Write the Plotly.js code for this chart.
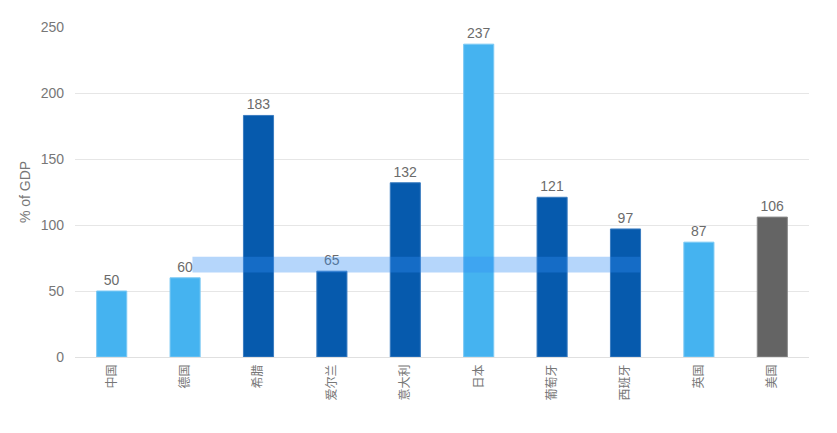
<!DOCTYPE html>
<html>
<head>
<meta charset="utf-8">
<script src="https://cdn.plot.ly/plotly-3.0.1.min.js"></script>
<style>
  html, body { margin: 0; padding: 0; background: #fff; }
  #chart { width: 837px; height: 433px; }
</style>
</head>
<body>
<div id="chart"></div>
<script>
var countries = ["中国", "德国", "希腊", "爱尔兰", "意大利", "日本", "葡萄牙", "西班牙", "英国", "美国"];
var debtPct = [50, 60, 183, 65, 132, 237, 121, 97, 87, 106];
var barColors = ["#45b3f0", "#45b3f0", "#065aad", "#065aad", "#065aad", "#45b3f0", "#065aad", "#065aad", "#45b3f0", "#646464"];
var lineColors = ["#7cc9f4", "#7cc9f4", "#3a7cc0", "#3a7cc0", "#3a7cc0", "#7cc9f4", "#3a7cc0", "#3a7cc0", "#7cc9f4", "#8a8a8a"];

// highlighted band (from, to) in category index / value units
var bandX = [1.1, 7.2];
var bandY = [64, 76];

var traceDebt = {
  type: "bar",
  x: countries,
  y: debtPct,
  text: debtPct.map(String),
  textposition: "outside",
  cliponaxis: false,
  textfont: { family: "Liberation Sans, Arial, sans-serif", size: 14, color: "#6b6b6b" },
  marker: { color: barColors, line: { color: lineColors, width: 1 } },
  hoverinfo: "none",
};

var layout = {
  width: 837,
  height: 433,
  margin: { l: 75, r: 28, t: 27, b: 76 },
  paper_bgcolor: "#ffffff",
  plot_bgcolor: "#ffffff",
  bargap: 0.59,
  showlegend: false,
  font: { family: "Liberation Sans, Arial, sans-serif", color: "#777" },
  xaxis: {
    type: "category",
    tickangle: -90,
    tickfont: { family: "Noto Sans CJK SC", size: 12, color: "#777" },
    showgrid: false,
    zeroline: false,
    ticks: "",
    showline: false,
    ticklabelstandoff: 4,
  },
  yaxis: {
    range: [0, 250],
    dtick: 50,
    title: { text: "% of GDP", font: { size: 14, color: "#777" }, standoff: 6 },
    tickfont: { size: 14, color: "#777" },
    gridcolor: "#e6e6e6",
    zeroline: true,
    zerolinecolor: "#e0e0e0",
    ticks: "",
    ticklabelstandoff: 10,
  },
  shapes: [
    {
      type: "rect",
      xref: "x",
      yref: "y",
      x0: bandX[0],
      x1: bandX[1],
      y0: bandY[0],
      y1: bandY[1],
      fillcolor: "rgba(50,140,245,0.36)",
      line: { width: 0 },
      layer: "above",
    },
  ],
};

var config = { staticPlot: true, displayModeBar: false };

Plotly.newPlot("chart", [traceDebt], layout, config);
</script>
</body>
</html>
